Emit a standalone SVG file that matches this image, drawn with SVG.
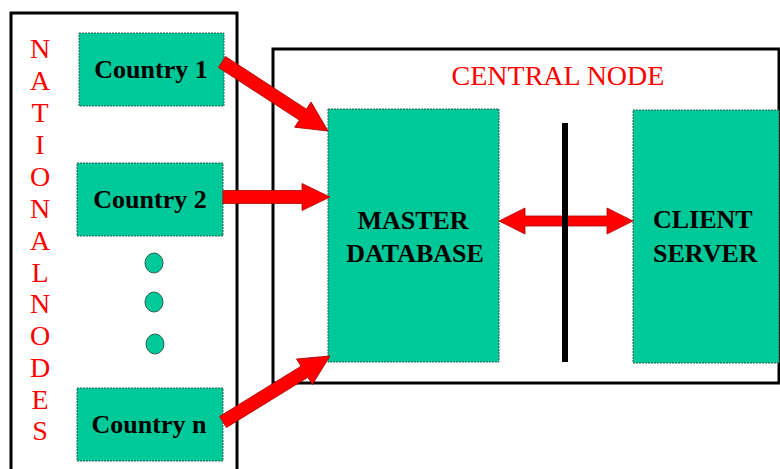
<svg xmlns="http://www.w3.org/2000/svg" width="780" height="469" viewBox="0 0 780 469">
<style>
.frame{fill:#fff;stroke:#000;stroke-width:3}
.box{fill:#00C999;stroke:#2F5F4F;stroke-width:1;stroke-dasharray:2 1}
.lbl{font-family:"Liberation Serif","Times New Roman",serif;font-size:26px;font-weight:bold;fill:#000}
.red{font-family:"Liberation Serif","Times New Roman",serif;font-size:28px;fill:#FF0000}
.arrow{fill:#FF0000;stroke:#B00000;stroke-width:0.8}
.dot{fill:#00C999;stroke:#2F5F4F;stroke-width:1}
</style>
<rect width="780" height="469" fill="#fff"/>
<g id="national-nodes">
<rect class="frame" x="11" y="13" width="226" height="470"/>
<g class="red" text-anchor="middle">
<text x="40" y="58">N</text>
<text x="40" y="90">A</text>
<text x="40" y="122">T</text>
<text x="40" y="154">I</text>
<text x="40" y="186">O</text>
<text x="40" y="218">N</text>
<text x="40" y="250">A</text>
<text x="40" y="282">L</text>
<text x="40" y="313">N</text>
<text x="40" y="345">O</text>
<text x="40" y="377">D</text>
<text x="40" y="409">E</text>
<text x="40" y="440">S</text>
</g>
</g>
<g id="central-node">
<rect class="frame" x="273" y="49" width="506" height="334"/>
<text class="red" x="558" y="85" text-anchor="middle">CENTRAL NODE</text>
</g>
<g id="country1">
<rect class="box" x="79" y="33" width="145" height="73"/>
<text class="lbl" x="151" y="78" text-anchor="middle">Country 1</text>
</g>
<g id="country2">
<rect class="box" x="77" y="163" width="146" height="73"/>
<text class="lbl" x="150" y="208" text-anchor="middle">Country 2</text>
</g>
<g id="ellipsis">
<ellipse class="dot" cx="154" cy="263" rx="9" ry="10"/>
<ellipse class="dot" cx="154" cy="302" rx="9" ry="10"/>
<ellipse class="dot" cx="155" cy="344" rx="9" ry="10"/>
</g>
<g id="countryn">
<rect class="box" x="77" y="388" width="146" height="73"/>
<text class="lbl" x="149" y="433" text-anchor="middle">Country n</text>
</g>
<g id="master-database">
<rect class="box" x="328" y="109" width="171" height="253"/>
<text class="lbl" x="413" y="229" text-anchor="middle">MASTER</text>
<text class="lbl" x="415" y="262" text-anchor="middle">DATABASE</text>
</g>
<g id="client-server">
<rect class="box" x="633" y="110" width="146" height="253"/>
<text class="lbl" x="653" y="228">CLIENT</text>
<text class="lbl" x="653" y="262">SERVER</text>
</g>
<g id="connectors">
<polygon class="arrow" transform="translate(222,62) rotate(33.06)" points="0,-6.5 96.5,-6.5 96.5,-15 126.5,0 96.5,15 96.5,6.5 0,6.5"/>
<polygon class="arrow" transform="translate(223,197)" points="0,-6.5 79,-6.5 79,-13.5 107,0 79,13.5 79,6.5 0,6.5"/>
<polygon class="arrow" transform="translate(223,422) rotate(-31.67)" points="0,-6.5 95.7,-6.5 95.7,-15 125.7,0 95.7,15 95.7,6.5 0,6.5"/>
<polygon class="arrow" transform="translate(499,221)" points="0,0 26,-13 26,-5 108,-5 108,-13 134,0 108,13 108,5 26,5 26,13"/>
<line x1="565" y1="123" x2="565" y2="362" stroke="#000" stroke-width="6"/>
</g>
</svg>
